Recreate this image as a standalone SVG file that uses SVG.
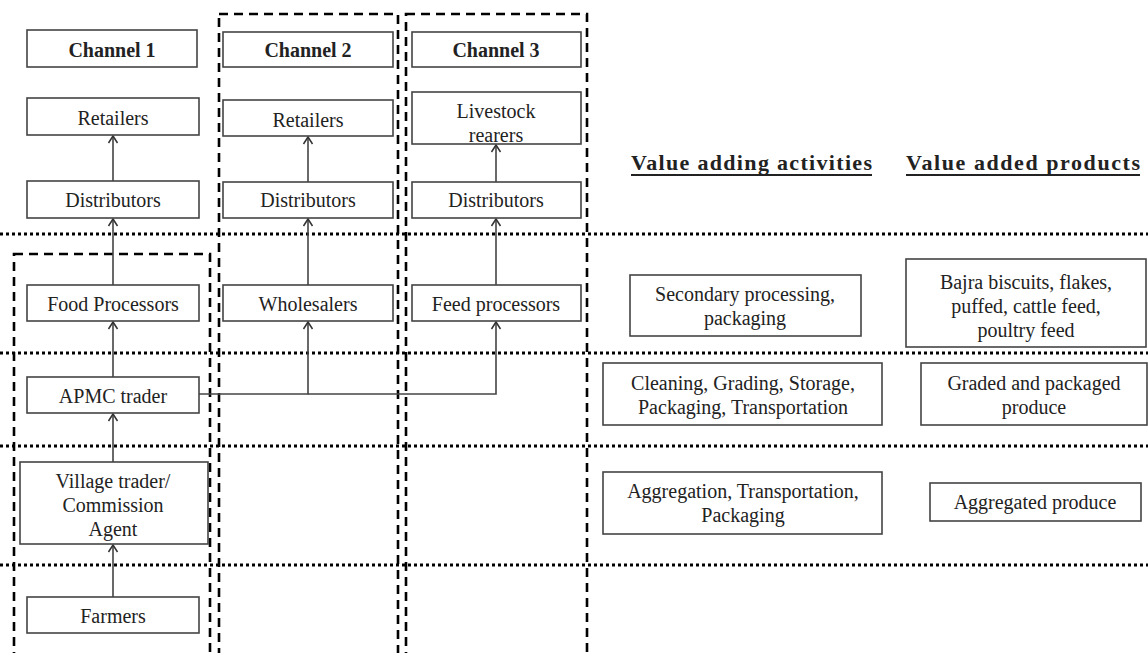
<svg xmlns="http://www.w3.org/2000/svg" width="1148" height="653" viewBox="0 0 1148 653">
<style>
.bx{fill:#fff;stroke:#444;stroke-width:1.6}
.t{font-family:"Liberation Serif","Times New Roman",serif;font-size:20px;fill:#222;text-anchor:middle}
.b{font-weight:bold}
.dash{fill:none;stroke:#000;stroke-width:2.6;stroke-dasharray:9 6}
.dot{fill:none;stroke:#000;stroke-width:3;stroke-dasharray:3 3}
.c{fill:none;stroke:#444;stroke-width:1.6}
.h{font-family:"Liberation Serif","Times New Roman",serif;font-size:22px;font-weight:bold;fill:#222}
</style>
<defs>
<marker id="arr" markerWidth="12" markerHeight="12" refX="10" refY="6" orient="auto" markerUnits="userSpaceOnUse">
<path d="M3,1.5 L10,6 L3,10.5" fill="none" stroke="#333" stroke-width="1.5"/>
</marker>
</defs>
<rect width="1148" height="653" fill="#fff"/>

<g id="separators">
<line class="dot" x1="0" y1="234" x2="1148" y2="234"/>
<line class="dot" x1="0" y1="353" x2="1148" y2="353"/>
<line class="dot" x1="0" y1="446" x2="1148" y2="446"/>
<line class="dot" x1="0" y1="565" x2="1148" y2="565"/>
<rect class="dash" x="14" y="254" width="196" height="420"/>
<rect class="dash" x="219" y="14" width="179" height="660"/>
<rect class="dash" x="406" y="14" width="181" height="660"/>
</g>

<g id="connectors">
<line class="c" x1="113" y1="181" x2="113" y2="136" marker-end="url(#arr)"/>
<line class="c" x1="113" y1="285" x2="113" y2="219" marker-end="url(#arr)"/>
<line class="c" x1="113" y1="377" x2="113" y2="322" marker-end="url(#arr)"/>
<line class="c" x1="113" y1="462" x2="113" y2="414" marker-end="url(#arr)"/>
<line class="c" x1="113" y1="597" x2="113" y2="545" marker-end="url(#arr)"/>
<line class="c" x1="308" y1="182" x2="308" y2="137" marker-end="url(#arr)"/>
<line class="c" x1="308" y1="285" x2="308" y2="219" marker-end="url(#arr)"/>
<line class="c" x1="496" y1="182" x2="496" y2="145" marker-end="url(#arr)"/>
<line class="c" x1="496" y1="285" x2="496" y2="219" marker-end="url(#arr)"/>
<polyline class="c" points="199,394 308,394 308,322" marker-end="url(#arr)"/>
<polyline class="c" points="308,394 496,394 496,322" marker-end="url(#arr)"/>
</g>

<g id="ch1-header"><rect class="bx" x="27" y="30" width="170" height="37"/><text class="t b" x="112" y="57">Channel 1</text></g>
<g id="ch2-header"><rect class="bx" x="223" y="32" width="170" height="35"/><text class="t b" x="308" y="57">Channel 2</text></g>
<g id="ch3-header"><rect class="bx" x="412" y="32" width="169" height="35"/><text class="t b" x="496" y="57">Channel 3</text></g>

<g id="ch1-retailers"><rect class="bx" x="27" y="98" width="172" height="37"/><text class="t" x="113" y="125">Retailers</text></g>
<g id="ch2-retailers"><rect class="bx" x="223" y="100" width="170" height="36"/><text class="t" x="308" y="127">Retailers</text></g>
<g id="ch3-livestock"><rect class="bx" x="412" y="92" width="169" height="52"/><text class="t" x="496" y="118">Livestock</text><text class="t" x="496" y="142">rearers</text></g>

<g id="ch1-distributors"><rect class="bx" x="27" y="181" width="172" height="37"/><text class="t" x="113" y="207">Distributors</text></g>
<g id="ch2-distributors"><rect class="bx" x="223" y="182" width="170" height="36"/><text class="t" x="308" y="207">Distributors</text></g>
<g id="ch3-distributors"><rect class="bx" x="412" y="182" width="169" height="36"/><text class="t" x="496" y="207">Distributors</text></g>

<g id="food-processors"><rect class="bx" x="27" y="285" width="172" height="36"/><text class="t" x="113" y="311">Food Processors</text></g>
<g id="wholesalers"><rect class="bx" x="223" y="285" width="170" height="36"/><text class="t" x="308" y="311">Wholesalers</text></g>
<g id="feed-processors"><rect class="bx" x="412" y="285" width="169" height="36"/><text class="t" x="496" y="311">Feed processors</text></g>

<g id="apmc"><rect class="bx" x="27" y="377" width="172" height="36"/><text class="t" x="113" y="403">APMC trader</text></g>
<g id="village-trader"><rect class="bx" x="20" y="462" width="188" height="82"/><text class="t" x="113" y="488">Village trader/</text><text class="t" x="113" y="512">Commission</text><text class="t" x="113" y="536">Agent</text></g>
<g id="farmers"><rect class="bx" x="27" y="597" width="172" height="36"/><text class="t" x="113" y="623">Farmers</text></g>

<g id="heading-activities"><text class="h" x="631" y="170" textLength="241" lengthAdjust="spacing">Value adding activities</text><line x1="631" y1="175" x2="872" y2="175" stroke="#222" stroke-width="1.8"/></g>
<g id="heading-products"><text class="h" x="906" y="170" textLength="234" lengthAdjust="spacing">Value added products</text><line x1="906" y1="175" x2="1140" y2="175" stroke="#222" stroke-width="1.8"/></g>

<g id="act-secondary"><rect class="bx" x="630" y="275" width="231" height="61"/><text class="t" x="745" y="301">Secondary processing,</text><text class="t" x="745" y="325">packaging</text></g>
<g id="prod-bajra"><rect class="bx" x="906" y="259" width="240" height="88"/><text class="t" x="1026" y="289">Bajra biscuits, flakes,</text><text class="t" x="1026" y="313">puffed, cattle feed,</text><text class="t" x="1026" y="337">poultry feed</text></g>
<g id="act-cleaning"><rect class="bx" x="603" y="363" width="279" height="62"/><text class="t" x="743" y="390">Cleaning, Grading, Storage,</text><text class="t" x="743" y="414">Packaging, Transportation</text></g>
<g id="prod-graded"><rect class="bx" x="921" y="363" width="226" height="62"/><text class="t" x="1034" y="390">Graded and packaged</text><text class="t" x="1034" y="414">produce</text></g>
<g id="act-aggregation"><rect class="bx" x="603" y="472" width="279" height="62"/><text class="t" x="743" y="498">Aggregation, Transportation,</text><text class="t" x="743" y="522">Packaging</text></g>
<g id="prod-aggregated"><rect class="bx" x="930" y="483" width="211" height="38"/><text class="t" x="1035" y="509">Aggregated produce</text></g>
</svg>
